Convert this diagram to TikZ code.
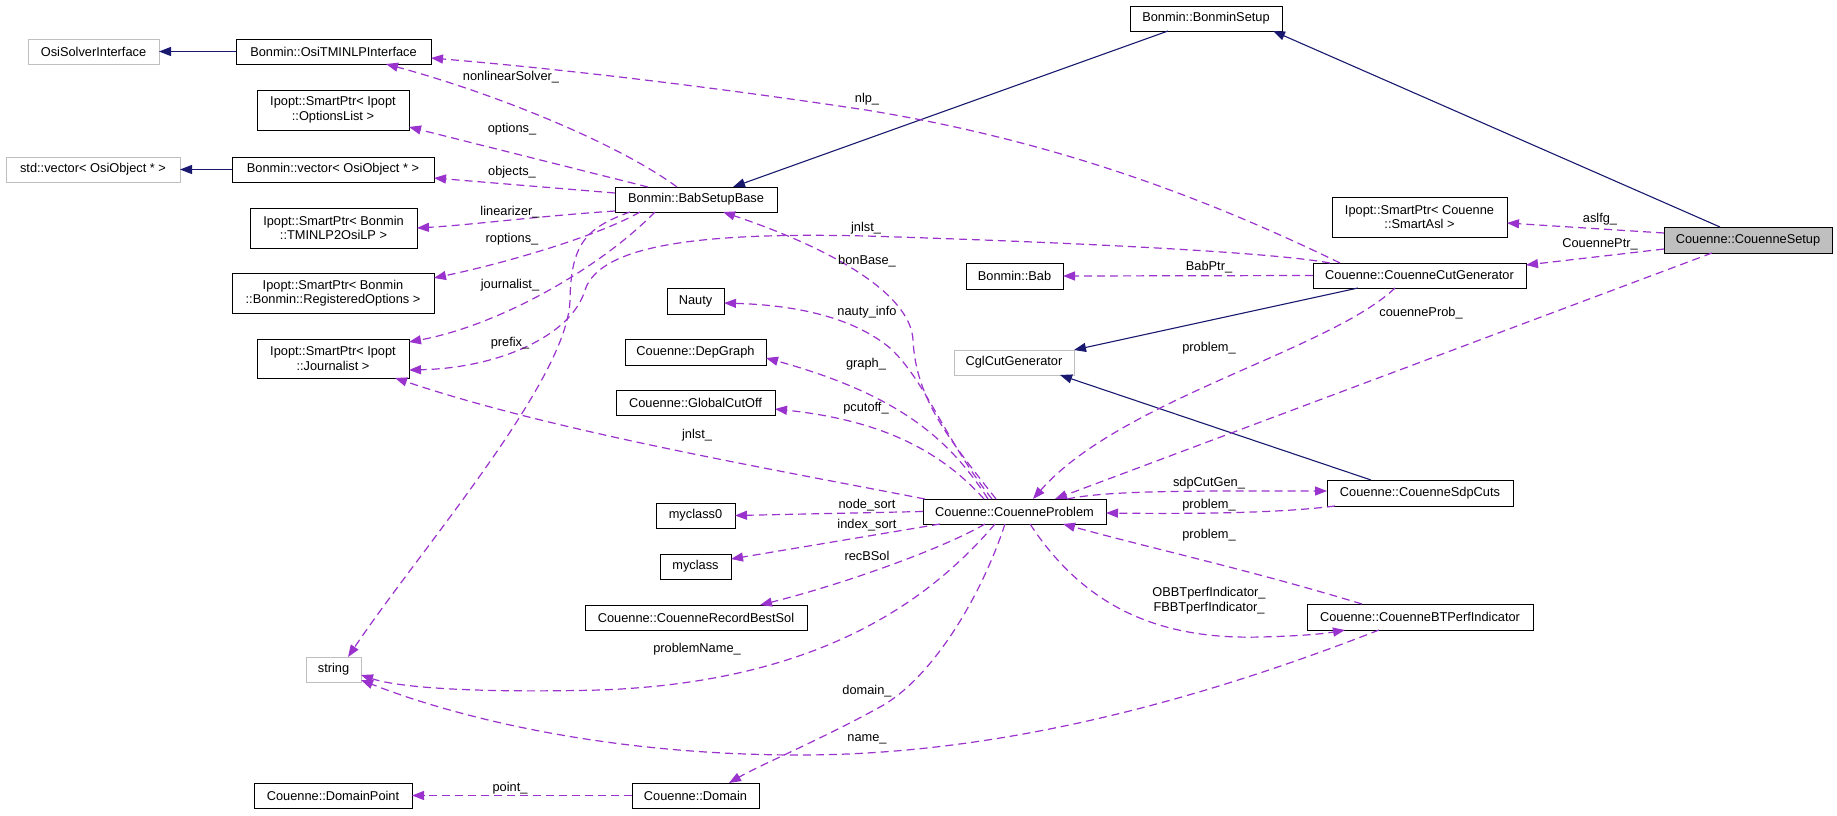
\documentclass[tikz,border=0pt]{standalone}
\usepackage{fontspec}
\setmainfont{Liberation Sans}
\usetikzlibrary{arrows.meta,calc}
\definecolor{orchid}{HTML}{9A32CD}
\definecolor{navy}{HTML}{191970}
\definecolor{gray75}{HTML}{BFBFBF}
\newcommand{\lblfont}{\fontsize{12.8}{14.5}\selectfont}
\tikzset{
  box/.style={draw=black, line width=0.9pt, fill=white, inner sep=0pt, outer sep=0pt, align=center, font=\lblfont},
  gbox/.style={box, draw=gray75},
  usedge/.style={draw=orchid, line width=1.2pt, dash pattern=on 8pt off 5pt, -{Triangle[length=12pt,width=9pt,fill=orchid]}},
  inhedge/.style={draw=navy, line width=1.1pt, -{Triangle[length=12pt,width=9pt,fill=navy]}},
  lab/.style={font=\lblfont, inner sep=0pt}
}
\begin{document}
\begin{tikzpicture}[x=1pt,y=-1pt]
\fill[white] (0,0) rectangle (1837,815);
\useasboundingbox (0,0) rectangle (1837,815);

% nodes
\node[gbox, minimum width=131, minimum height=25] (osi) at (93.5,51.5) {OsiSolverInterface};
\node[box, minimum width=195, minimum height=25] (tmi) at (333.5,51.5) {Bonmin::OsiTMINLPInterface};
\node[box, minimum width=152, minimum height=40] (opt) at (333,110) {Ipopt::SmartPtr< Ipopt\\::OptionsList >};
\node[gbox, minimum width=174, minimum height=25] (svec) at (93,169.5) {std::vector< OsiObject * >};
\node[box, minimum width=202, minimum height=25] (bvec) at (333,169.5) {Bonmin::vector< OsiObject * >};
\node[box, minimum width=167, minimum height=40] (t2o) at (333.5,228) {Ipopt::SmartPtr< Bonmin\\::TMINLP2OsiLP >};
\node[box, minimum width=202, minimum height=40] (rop) at (333,293) {Ipopt::SmartPtr< Bonmin\\::Bonmin::RegisteredOptions >};
\node[box, minimum width=152, minimum height=39] (jou) at (333,358.5) {Ipopt::SmartPtr< Ipopt\\::Journalist >};
\node[gbox, minimum width=55, minimum height=25] (str) at (333.5,669.5) {string};
\node[box, minimum width=158, minimum height=25] (dpt) at (333,795.5) {Couenne::DomainPoint};

\node[box, minimum width=152, minimum height=25] (bsu) at (1206,18.5) {Bonmin::BonminSetup};
\node[box, minimum width=162, minimum height=25] (bsb) at (696,199.5) {Bonmin::BabSetupBase};
\node[box, minimum width=97, minimum height=26] (bab) at (1014.5,276) {Bonmin::Bab};
\node[box, minimum width=57, minimum height=26] (nau) at (695.5,301) {Nauty};
\node[box, minimum width=141, minimum height=26] (dep) at (695.5,352) {Couenne::DepGraph};
\node[box, minimum width=159, minimum height=25] (gco) at (695.5,402.5) {Couenne::GlobalCutOff};
\node[gbox, minimum width=120, minimum height=25] (cgl) at (1014,362.5) {CglCutGenerator};
\node[box, minimum width=183, minimum height=25] (cp) at (1014.5,511.5) {Couenne::CouenneProblem};
\node[box, minimum width=79, minimum height=25] (mc0) at (695.5,515.5) {myclass0};
\node[box, minimum width=71, minimum height=25] (mc) at (695.5,566.5) {myclass};
\node[box, minimum width=222, minimum height=25] (rbs) at (696,617.5) {Couenne::CouenneRecordBestSol};
\node[box, minimum width=127, minimum height=25] (dom) at (695.5,795.5) {Couenne::Domain};
\node[box, minimum width=175, minimum height=40] (asl) at (1419.5,217) {Ipopt::SmartPtr< Couenne\\::SmartAsl >};
\node[box, fill=gray75, minimum width=168, minimum height=26] (cs) at (1748,240) {Couenne::CouenneSetup};
\node[box, minimum width=213, minimum height=25] (ccg) at (1419.5,275.5) {Couenne::CouenneCutGenerator};
\node[box, minimum width=186, minimum height=26] (sdp) at (1420,493) {Couenne::CouenneSdpCuts};
\node[box, minimum width=226, minimum height=26] (btp) at (1420,617) {Couenne::CouenneBTPerfIndicator};

% inheritance
\draw[inhedge] (tmi.west) -- (osi.east);
\draw[inhedge] (bvec.west) -- (svec.east);
\draw[inhedge] ($(bsu.north west)+(38,25)$) -- ($(bsb.north west)+(118,0)$);
\draw[inhedge] ($(cs.north west)+(56,0)$) -- ($(bsu.north west)+(143,25)$);
\draw[inhedge] ($(ccg.north west)+(45,25)$) -- (cgl.north east);
\draw[inhedge] ($(sdp.north west)+(44,0)$) -- ($(cgl.north west)+(106,25)$);

% usage
\draw[usedge] ($(bsb.north west)+(62,0)$) .. controls (620,145) and (500,95) .. ($(tmi.north west)+(150,25)$);
\draw[usedge] ($(bsb.north west)+(33,0)$) -- ($(opt.north west)+(152,37)$);
\draw[usedge] ($(bsb.north west)+(0,6)$) -- ($(bvec.north west)+(202,21)$);
\draw[usedge] ($(bsb.north west)+(0,24)$) .. controls (540,216) and (470,225) .. ($(t2o.north west)+(167,20)$);
\draw[usedge] ($(bsb.north west)+(25,25)$) .. controls (600,235) and (510,262) .. ($(rop.north west)+(202,5)$);
\draw[usedge] ($(bsb.north west)+(40,25)$) .. controls (600,268) and (500,325) .. ($(jou.north west)+(152,3)$);
\draw[usedge] ($(bsb.north west)+(15,25)$) .. controls (585,228) and (571,245) .. (570,300) .. controls (568,380) and (420,550) .. ($(str.north west)+(42,0)$);
\draw[usedge] ($(ccg.north west)+(27,0)$) .. controls (1200,195) and (1050,140) .. (866,110) .. controls (700,85) and (550,68) .. ($(tmi.north west)+(195,19)$);
\draw[usedge] ($(ccg.north west)+(17,0)$) .. controls (1260,250) and (1000,240) .. (866,236) .. controls (700,232) and (600,245) .. (585,290) .. controls (572,335) and (500,368) .. ($(jou.north west)+(152,31)$);
\draw[usedge] (ccg.west) -- (bab.east);
\draw[usedge] ($(cs.north west)+(0,6)$) -- ($(asl.north west)+(175,26)$);
\draw[usedge] ($(cs.north west)+(0,22)$) -- ($(ccg.north west)+(213,2)$);
\draw[usedge] ($(cs.north west)+(48,26)$) -- ($(cp.north west)+(132,0)$);
\draw[usedge] ($(ccg.north west)+(82,25)$) .. controls (1330,350) and (1120,400) .. ($(cp.north west)+(110,0)$);
\draw[usedge] ($(cp.north west)+(73,0)$) .. controls (950,440) and (916,400) .. (913,340) .. controls (911,300) and (850,255) .. ($(bsb.north west)+(108,25)$);
\draw[usedge] ($(cp.north west)+(69,0)$) .. controls (945,440) and (925,380) .. (890,348) .. controls (850,315) and (790,305) .. ($(nau.north west)+(57,15)$);
\draw[usedge] ($(cp.north west)+(65,0)$) .. controls (950,440) and (900,395) .. ($(dep.north west)+(141,19)$);
\draw[usedge] ($(cp.north west)+(61,0)$) .. controls (940,450) and (880,420) .. ($(gco.north west)+(159,19)$);
\draw[usedge] ($(cp.north west)+(2,0)$) .. controls (750,465) and (550,430) .. ($(jou.north west)+(138,39)$);
\draw[usedge] (cp.west) -- (mc0.east);
\draw[usedge] ($(cp.north west)+(17,25)$) -- ($(mc.north west)+(71,5)$);
\draw[usedge] ($(cp.north west)+(62,25)$) .. controls (940,550) and (840,585) .. ($(rbs.north west)+(175,0)$);
\draw[usedge] ($(cp.north west)+(72,25)$) .. controls (930,600) and (820,682) .. (600,690) .. controls (480,693) and (400,688) .. ($(str.north west)+(55,18)$);
\draw[usedge] ($(cp.north west)+(82,25)$) .. controls (980,600) and (930,680) .. (880,707) .. controls (820,740) and (760,765) .. ($(dom.north west)+(97,0)$);
\draw[usedge] ($(cp.north west)+(107,25)$) .. controls (1080,600) and (1150,640) .. (1260,637) .. controls (1300,636) and (1322,634) .. ($(btp.north west)+(38,26)$);
\draw[usedge] ($(cp.north west)+(144,0)$) .. controls (1110,490) and (1200,491) .. ($(sdp.north west)+(0,11)$);
\draw[usedge] ($(sdp.north west)+(8,26)$) .. controls (1280,513) and (1200,514) .. ($(cp.north west)+(183,14)$);
\draw[usedge] ($(btp.north west)+(55,0)$) .. controls (1250,570) and (1150,548) .. ($(cp.north west)+(140,25)$);
\draw[usedge] ($(btp.north west)+(72,26)$) .. controls (1200,700) and (1000,755) .. (800,755) .. controls (600,755) and (450,715) .. ($(str.north west)+(55,23)$);
\draw[usedge] (dom.west) -- (dpt.east);

% labels
\node[lab] (l01) at (511,77) {nonlinearSolver\_};
\node[lab] (l02) at (512,129) {options\_};
\node[lab] (l03) at (512,172) {objects\_};
\node[lab] (l04) at (510,212) {linearizer\_};
\node[lab] (l05) at (512,239) {roptions\_};
\node[lab] (l06) at (510,285) {journalist\_};
\node[lab] (l07) at (510,343) {prefix\_};
\node[lab] (l08) at (510,788) {point\_};
\node[lab] (l09) at (867,99) {nlp\_};
\node[lab] (l10) at (866,228) {jnlst\_};
\node[lab] (l11) at (867,261) {bonBase\_};
\node[lab] (l12) at (867,312) {nauty\_info};
\node[lab] (l13) at (866,364) {graph\_};
\node[lab] (l14) at (866,408) {pcutoff\_};
\node[lab] (l15) at (697,435) {jnlst\_};
\node[lab] (l16) at (867,505) {node\_sort};
\node[lab] (l17) at (867,525) {index\_sort};
\node[lab] (l18) at (867,556) {recBSol};
\node[lab] (l19) at (697,649) {problemName\_};
\node[lab] (l20) at (867,691) {domain\_};
\node[lab] (l21) at (867,739) {name\_};
\node[lab] (l22) at (1209,267) {BabPtr\_};
\node[lab] (l23) at (1209,348) {problem\_};
\node[lab] (l24) at (1209,483) {sdpCutGen\_};
\node[lab] (l25) at (1209,505) {problem\_};
\node[lab] (l26) at (1209,535) {problem\_};
\node[lab] (l27) at (1209,593) {OBBTperfIndicator\_};
\node[lab] (l28) at (1209,608) {FBBTperfIndicator\_};
\node[lab] (l29) at (1421,313) {couenneProb\_};
\node[lab] (l30) at (1600,219) {aslfg\_};
\node[lab] (l31) at (1600,244) {CouennePtr\_};
\end{tikzpicture}
\end{document}
